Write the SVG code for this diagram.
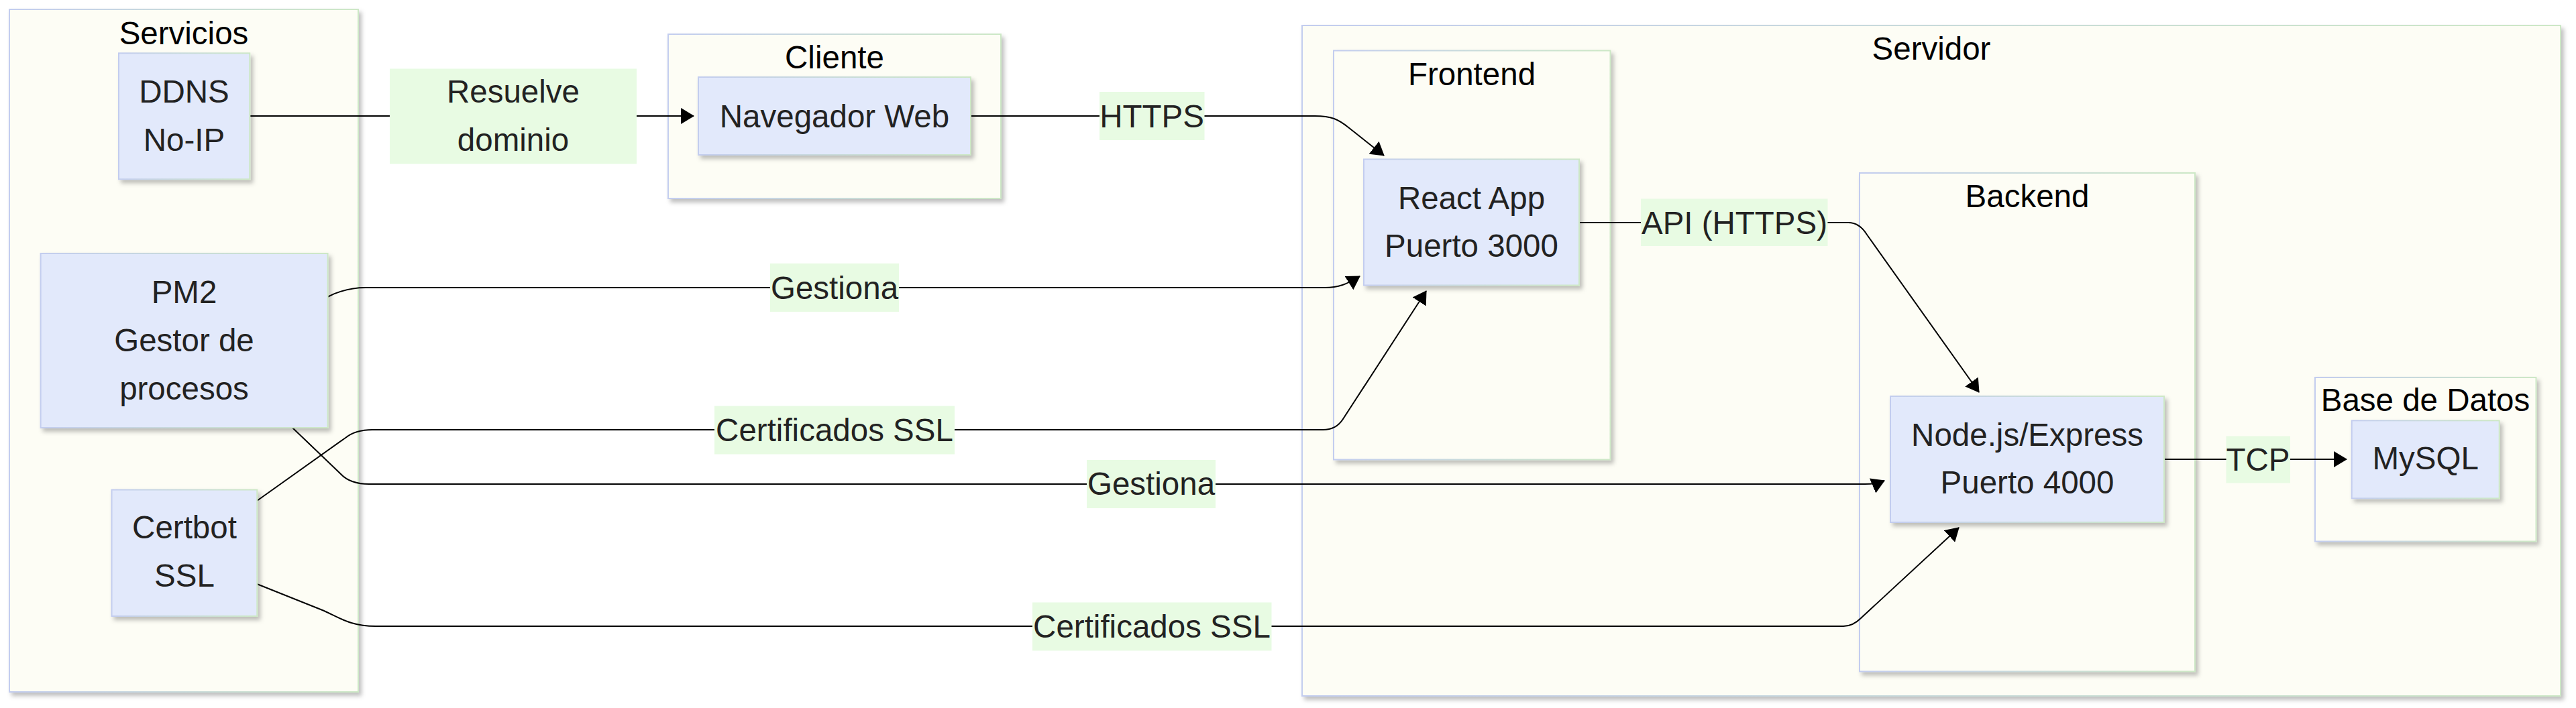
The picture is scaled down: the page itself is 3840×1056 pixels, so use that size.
<svg xmlns="http://www.w3.org/2000/svg" width="3840" height="1056" viewBox="0 0 3840 1056">
<defs>
<linearGradient id="bd" x1="0" y1="0" x2="1" y2="0"><stop offset="0" stop-color="#c3cdef"/><stop offset="1" stop-color="#cde8c6"/></linearGradient>
<filter id="sh" x="-10%" y="-10%" width="130%" height="130%"><feDropShadow dx="4" dy="5" stdDeviation="3" flood-color="#000" flood-opacity="0.25"/></filter>
<marker id="ar" viewBox="0 0 20 24" refX="19" refY="12" markerWidth="20" markerHeight="24" markerUnits="userSpaceOnUse" orient="auto"><path d="M0,0 L20,12 L0,24 z" fill="#000"/></marker>
</defs>
<style>
.cl{fill:#fdfdf5;stroke:url(#bd);stroke-width:2;filter:url(#sh)}
.nd{fill:#e2e9fb;stroke:url(#bd);stroke-width:2;filter:url(#sh)}
text{font-family:"Liberation Sans",Arial,sans-serif;font-size:47.5px;text-anchor:middle}
.t{fill:#000}
.n{fill:#222}
.e{fill:none;stroke:#000;stroke-width:2;marker-end:url(#ar)}
.lb{fill:#e8fbe3}
</style>
<g id="clusters">
<g id="cl-servicios"><rect class="cl" x="14" y="14" width="520" height="1018"/><text class="t" x="274" y="66">Servicios</text></g>
<g id="cl-cliente"><rect class="cl" x="996" y="51" width="496" height="245"/><text class="t" x="1244" y="102">Cliente</text></g>
<g id="cl-servidor"><rect class="cl" x="1941" y="38" width="1876" height="1000"/><text class="t" x="2879" y="89">Servidor</text></g>
<g id="cl-frontend"><rect class="cl" x="1988" y="75.5" width="412.5" height="610"/><text class="t" x="2194" y="127">Frontend</text></g>
<g id="cl-backend"><rect class="cl" x="2772" y="258" width="500" height="743.5"/><text class="t" x="3022" y="309">Backend</text></g>
<g id="cl-bd"><rect class="cl" x="3451" y="563" width="329.5" height="244.5"/><text class="t" x="3615.5" y="613">Base de Datos</text></g>
</g>
<g id="connectors">
<path class="e" d="M372,173 L1034,173"/>
<path class="e" d="M1447,173 L1960,173 C1985,173 1995,178 2010,190 L2063,232"/>
<path class="e" d="M488,443 Q515,429 545,429 L1975,429 C1995,429 2008,424 2027,412"/>
<path class="e" d="M383,747 L515,653 Q530,641 555,641 L1972,641 Q1992,641 2002,625 L2126,434"/>
<path class="e" d="M436,638 L508,707 Q522,722 550,722 L2780,722 C2795,722 2802,720 2809,717"/>
<path class="e" d="M383,871 L478,909 C505,920 520,934 560,934 L2748,934 Q2762,934 2774,922 L2920,787"/>
<path class="e" d="M2354,332 L2755,332 Q2772,332 2783,350 L2950,585"/>
<path class="e" d="M3226,685 L3498,685"/>
<g id="edge-labels">
<rect class="lb" x="581" y="102.5" width="368" height="142"/><text class="n" x="765" y="153">Resuelve</text><text class="n" x="765" y="225">dominio</text>
<rect class="lb" x="1639" y="137" width="156.5" height="72"/><text class="n" x="1717" y="189.5">HTTPS</text>
<rect class="lb" x="1148" y="393" width="192" height="72"/><text class="n" x="1244" y="445.5">Gestiona</text>
<rect class="lb" x="1065" y="605.5" width="358" height="72"/><text class="n" x="1244" y="657.5">Certificados SSL</text>
<rect class="lb" x="1620" y="686" width="192" height="72"/><text class="n" x="1716" y="738">Gestiona</text>
<rect class="lb" x="1539" y="898.5" width="356.5" height="72"/><text class="n" x="1717" y="950.5">Certificados SSL</text>
<rect class="lb" x="2446" y="296.5" width="278.5" height="70.5"/><text class="n" x="2585.5" y="348.5">API (HTTPS)</text>
<rect class="lb" x="3318.5" y="650.5" width="95.5" height="70"/><text class="n" x="3366" y="701.5">TCP</text>
</g>
</g>
<g id="nodes">
<g id="n-ddns"><rect class="nd" x="177" y="79.3" width="195.3" height="188"/><text class="n" x="274.5" y="153">DDNS</text><text class="n" x="274.5" y="225">No-IP</text></g>
<g id="n-pm2"><rect class="nd" x="60.6" y="378" width="428" height="260"/><text class="n" x="274.5" y="452">PM2</text><text class="n" x="274.5" y="524">Gestor de</text><text class="n" x="274.5" y="596">procesos</text></g>
<g id="n-certbot"><rect class="nd" x="166.5" y="730.5" width="216.8" height="188.5"/><text class="n" x="275" y="803">Certbot</text><text class="n" x="275" y="875">SSL</text></g>
<g id="n-nav"><rect class="nd" x="1041" y="115" width="406" height="116"/><text class="n" x="1244" y="189.5">Navegador Web</text></g>
<g id="n-react"><rect class="nd" x="2033" y="237.5" width="321" height="188"/><text class="n" x="2193.5" y="312">React App</text><text class="n" x="2193.5" y="383">Puerto 3000</text></g>
<g id="n-node"><rect class="nd" x="2818" y="591" width="408" height="188"/><text class="n" x="3022" y="665">Node.js/Express</text><text class="n" x="3022" y="736">Puerto 4000</text></g>
<g id="n-mysql"><rect class="nd" x="3505.7" y="627.3" width="220" height="116"/><text class="n" x="3615.7" y="700">MySQL</text></g>
</g>
</svg>
